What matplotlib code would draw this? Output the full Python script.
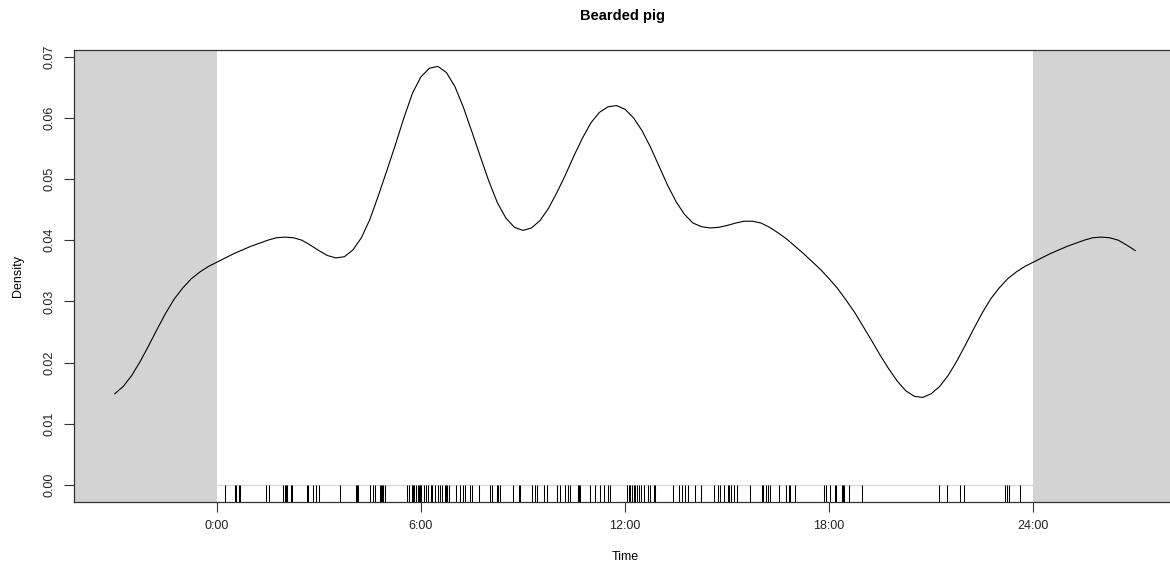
"""Circular activity density for bearded pig, drawn in the R overlap style.

One period (0-24 h) of the density curve is stored; the grey margins repeat
the curve three hours either side, as densityPlot(extend=...) does.
"""

import matplotlib

matplotlib.use("Agg")
import matplotlib.pyplot as plt
import numpy as np

plt.rcParams["font.family"] = ["Liberation Sans", "DejaVu Sans"]

# --- Data ------------------------------------------------------------------
hours = [
    0.0, 0.25, 0.5, 0.75, 1.0, 1.25, 1.5, 1.75, 2.0, 2.25, 2.5, 2.75,
    3.0, 3.25, 3.5, 3.75, 4.0, 4.25, 4.5, 4.75, 5.0, 5.25, 5.5, 5.75,
    6.0, 6.25, 6.5, 6.75, 7.0, 7.25, 7.5, 7.75, 8.0, 8.25, 8.5, 8.75,
    9.0, 9.25, 9.5, 9.75, 10.0, 10.25, 10.5, 10.75, 11.0, 11.25, 11.5, 11.75,
    12.0, 12.25, 12.5, 12.75, 13.0, 13.25, 13.5, 13.75, 14.0, 14.25, 14.5, 14.75,
    15.0, 15.25, 15.5, 15.75, 16.0, 16.25, 16.5, 16.75, 17.0, 17.25, 17.5, 17.75,
    18.0, 18.25, 18.5, 18.75, 19.0, 19.25, 19.5, 19.75, 20.0, 20.25, 20.5, 20.75,
    21.0, 21.25, 21.5, 21.75, 22.0, 22.25, 22.5, 22.75, 23.0, 23.25, 23.5, 23.75,
    24.0,
]
density = [
    0.0364, 0.0371, 0.0378, 0.0384, 0.0390, 0.0395, 0.0400, 0.0404, 0.0405, 0.0404, 0.0400, 0.0392,
    0.0383, 0.0375, 0.0371, 0.0373, 0.0384, 0.0404, 0.0434, 0.0473, 0.0514, 0.0556, 0.0600, 0.0640,
    0.0667, 0.0681, 0.0684, 0.0674, 0.0651, 0.0617, 0.0577, 0.0536, 0.0496, 0.0461, 0.0436, 0.0421,
    0.0416, 0.0420, 0.0432, 0.0452, 0.0478, 0.0507, 0.0538, 0.0567, 0.0592, 0.0609, 0.0618, 0.0620,
    0.0614, 0.0600, 0.0579, 0.0552, 0.0521, 0.0490, 0.0463, 0.0442, 0.0428, 0.0422, 0.0420, 0.0421,
    0.0424, 0.0428, 0.0431, 0.0431, 0.0428, 0.0421, 0.0412, 0.0402, 0.0390, 0.0378, 0.0365, 0.0352,
    0.0337, 0.0321, 0.0302, 0.0282, 0.0259, 0.0236, 0.0212, 0.0190, 0.0170, 0.0154, 0.0145, 0.0143,
    0.0149, 0.0161, 0.0179, 0.0202, 0.0228, 0.0255, 0.0281, 0.0304, 0.0322, 0.0337, 0.0348, 0.0357,
    0.0364,
]

# Detection times (hours) shown in the rug.
rug_hours = [
    0.25, 0.54, 0.57, 0.66, 0.69, 1.45, 1.52, 1.96, 1.99, 2.03, 2.06, 2.18,
    2.21, 2.65, 2.68, 2.82, 2.91, 3.01, 3.63, 4.09, 4.12, 4.15, 4.51, 4.59,
    4.66, 4.80, 4.83, 4.87, 4.90, 4.93, 5.59, 5.64, 5.73, 5.76, 5.80, 5.85,
    5.90, 5.93, 5.96, 5.99, 6.10, 6.15, 6.22, 6.29, 6.32, 6.42, 6.49, 6.55,
    6.62, 6.71, 6.74, 6.78, 6.82, 7.04, 7.15, 7.25, 7.30, 7.45, 7.50, 7.72,
    8.02, 8.09, 8.23, 8.28, 8.33, 8.72, 8.87, 8.90, 9.26, 9.36, 9.41, 9.63,
    9.70, 10.00, 10.08, 10.24, 10.31, 10.37, 10.63, 10.66, 10.68, 10.98,
    11.12, 11.25, 11.37, 11.49, 11.55, 12.06, 12.11, 12.15, 12.20, 12.25,
    12.30, 12.35, 12.42, 12.48, 12.55, 12.67, 12.74, 12.84, 12.89, 13.40,
    13.58, 13.67, 13.75, 13.85, 14.05, 14.24, 14.63, 14.73, 14.80, 14.90,
    15.02, 15.06, 15.12, 15.19, 15.29, 15.68, 16.02, 16.07, 16.14, 16.20,
    16.27, 16.52, 16.73, 16.81, 16.86, 17.00, 17.84, 17.91, 18.03, 18.18,
    18.21, 18.38, 18.41, 18.44, 18.57, 18.96, 21.22, 21.46, 21.86, 21.97,
    23.18, 23.23, 23.28, 23.60,
]

x_ticks = [0, 6, 12, 18, 24]
x_tick_labels = ["0:00", "6:00", "12:00", "18:00", "24:00"]
y_ticks = [0.00, 0.01, 0.02, 0.03, 0.04, 0.05, 0.06, 0.07]

EXTEND = 3  # hours of wrap-around drawn either side

# --- Build the wrapped curve from the single period -------------------------
h = np.asarray(hours)
d = np.asarray(density)
pre = h >= 24 - EXTEND
post = h <= EXTEND
curve_x = np.concatenate([h[pre] - 24, h[1:], h[post][1:] + 24])
curve_y = np.concatenate([d[pre], d[1:], d[post][1:]])

# --- Figure -----------------------------------------------------------------
fig = plt.figure(figsize=(11.7, 5.71), dpi=100)
# The right edge of the plot box falls just outside the image, as in the source.
ax = fig.add_axes([0.0632, 0.1214, 0.942, 0.7916])

span = 24 + 2 * EXTEND
x_lo, x_hi = -EXTEND - 0.04 * span, 24 + EXTEND + 0.04 * span
y_top = max(density)
y_lo, y_hi = -0.04 * y_top, y_top * 1.04

ax.axvspan(x_lo, 0, color="#d3d3d3", lw=0, zorder=0)
ax.axvspan(24, x_hi, color="#d3d3d3", lw=0, zorder=0)
ax.hlines(0, 0, 24, color="#d9d9d9", lw=1.0, zorder=1)

ax.plot(curve_x, curve_y, color="black", lw=0.8, zorder=3)
ax.vlines(rug_hours, y_lo, 0, color="black", lw=0.75, zorder=2)

ax.set_xlim(x_lo, x_hi)
ax.set_ylim(y_lo, y_hi)

ax.set_xticks(x_ticks)
ax.set_xticklabels(x_tick_labels)
ax.set_yticks(y_ticks)
ax.set_yticklabels([f"{v:.2f}" for v in y_ticks], rotation=90, va="center")
ax.tick_params(axis="both", length=7, width=0.8, color="#333333",
               labelsize=9, labelcolor="#222222", pad=6)

for side in ("top", "bottom", "left"):
    ax.spines[side].set_color("#333333")
    ax.spines[side].set_linewidth(0.9)
ax.spines["right"].set_visible(False)

ax.set_xlabel("Time", fontsize=9, labelpad=14)
ax.set_ylabel("Density", fontsize=9, labelpad=14)
fig.text(0.532, 0.972, "Bearded pig", ha="center", va="center",
         fontsize=10.5, fontweight="bold")

fig.savefig("out.png", dpi=100)
plt.close(fig)
